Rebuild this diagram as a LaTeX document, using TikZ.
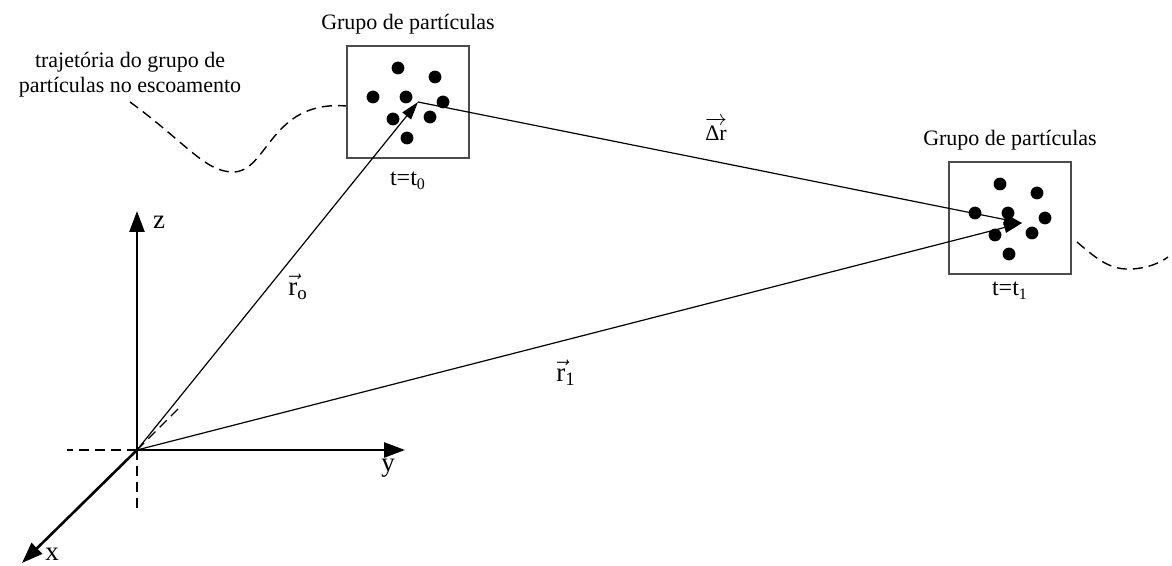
\documentclass[tikz,border=0pt]{standalone}
\usepackage{amsmath}
\usepackage{fontspec}
\setmainfont{Liberation Serif}
\usetikzlibrary{arrows.meta,positioning}

\begin{document}
\begin{tikzpicture}[
    x=0.5pt, y=-0.5pt,
    font=\fontsize{11}{12.5}\selectfont,
    node distance=2pt,
    group/.style={rectangle, draw=black!70, line width=0.9pt, minimum width=61pt, minimum height=56pt, inner sep=0pt},
    vector/.style={-{Triangle[length=9pt,width=5.5pt]}, line width=0.6pt},
    axis/.style={-{Triangle[length=10.5pt,width=7.5pt]}, line width=1.3pt},
    hidden/.style={dash pattern=on 5pt off 3pt, line width=0.7pt},
    particle/.style={fill=black},
    biglabel/.style={font=\fontsize{13.5}{15}\selectfont, inner sep=1pt}
  ]
    \useasboundingbox (0,0) rectangle (1172,566);

    % groups of particles
    \node[group] (group0) at (408,102) {};
    \node[group] (group1) at (1010,218) {};
    \node[above=of group0] (title0) {Grupo de partículas};
    \node[above=of group1] (title1) {Grupo de partículas};
    \node[below=3pt of group0, font=\fontsize{12}{14}\selectfont] (time0) {$\text{t=t}_{\text{0}}$};
    \node[below=0pt of group1, font=\fontsize{12}{14}\selectfont] (time1) {$\text{t=t}_{\text{1}}$};
    \foreach \g in {group0,group1}
      \foreach \dx/\dy in {-10/-34, 27/-25, -35/-5, -2/-5, 35/0, -15/17, 22/15, -1/36}
        \fill[particle] ([shift={(\dx,\dy)}]\g.center) circle (3.2pt);

    % axes
    \coordinate (O) at (137,450);
    \coordinate (zend) at (137,211);
    \coordinate (yend) at (405,450);
    \coordinate (xend) at (22,563);
    \coordinate (xback) at (180,407);
    \coordinate (yback) at (67,450);
    \coordinate (zback) at (137,512);
    \draw[axis] (O) -- (zend);
    \draw[axis] (O) -- (yend);
    \draw[axis] (O) -- (xend);
    \draw[hidden] (O) -- (xback);
    \draw[hidden] (O) -- (yback);
    \draw[hidden] (O) -- (zback);
    \node[biglabel] (zlabel) at (159,222) {z};
    \node[biglabel] (ylabel) at (388,468) {y};
    \node[biglabel] (xlabel) at (52,554) {x};

    % position vectors
    \coordinate (p0) at ([shift={(10,0)}]group0.center);
    \coordinate (p1) at ([shift={(12,5)}]group1.center);
    \draw[vector] (O) -- (p0);
    \draw[vector] (O) -- (p1);
    \draw[vector] (p0) -- (p1);
    \node[biglabel] (r0label) at (298,287) {$\vec{\text{r}}_{\text{o}}$};
    \node[biglabel] (r1label) at (566,373) {$\vec{\text{r}}_{\text{1}}$};
    \node (drlabel) at (716,129) {$\overrightarrow{\text{Δr}}$};

    % trajectory
    \node[align=center] (trajlabel) at (130,75) {trajetória do grupo de\\partículas no escoamento};
    \coordinate (traj0) at (130,102);
    \draw[hidden] (traj0) .. controls (185,142) and (205,172) .. (233,172)
      .. controls (268,172) and (270,100) .. ([yshift=-2pt]group0.west);
    \coordinate (traj1a) at (1077,242);
    \coordinate (traj1b) at (1168,257);
    \draw[hidden] (traj1a) .. controls (1100,262) and (1112,270) .. (1132,269)
      .. controls (1148,268) and (1160,263) .. (traj1b);
\end{tikzpicture}
\end{document}
